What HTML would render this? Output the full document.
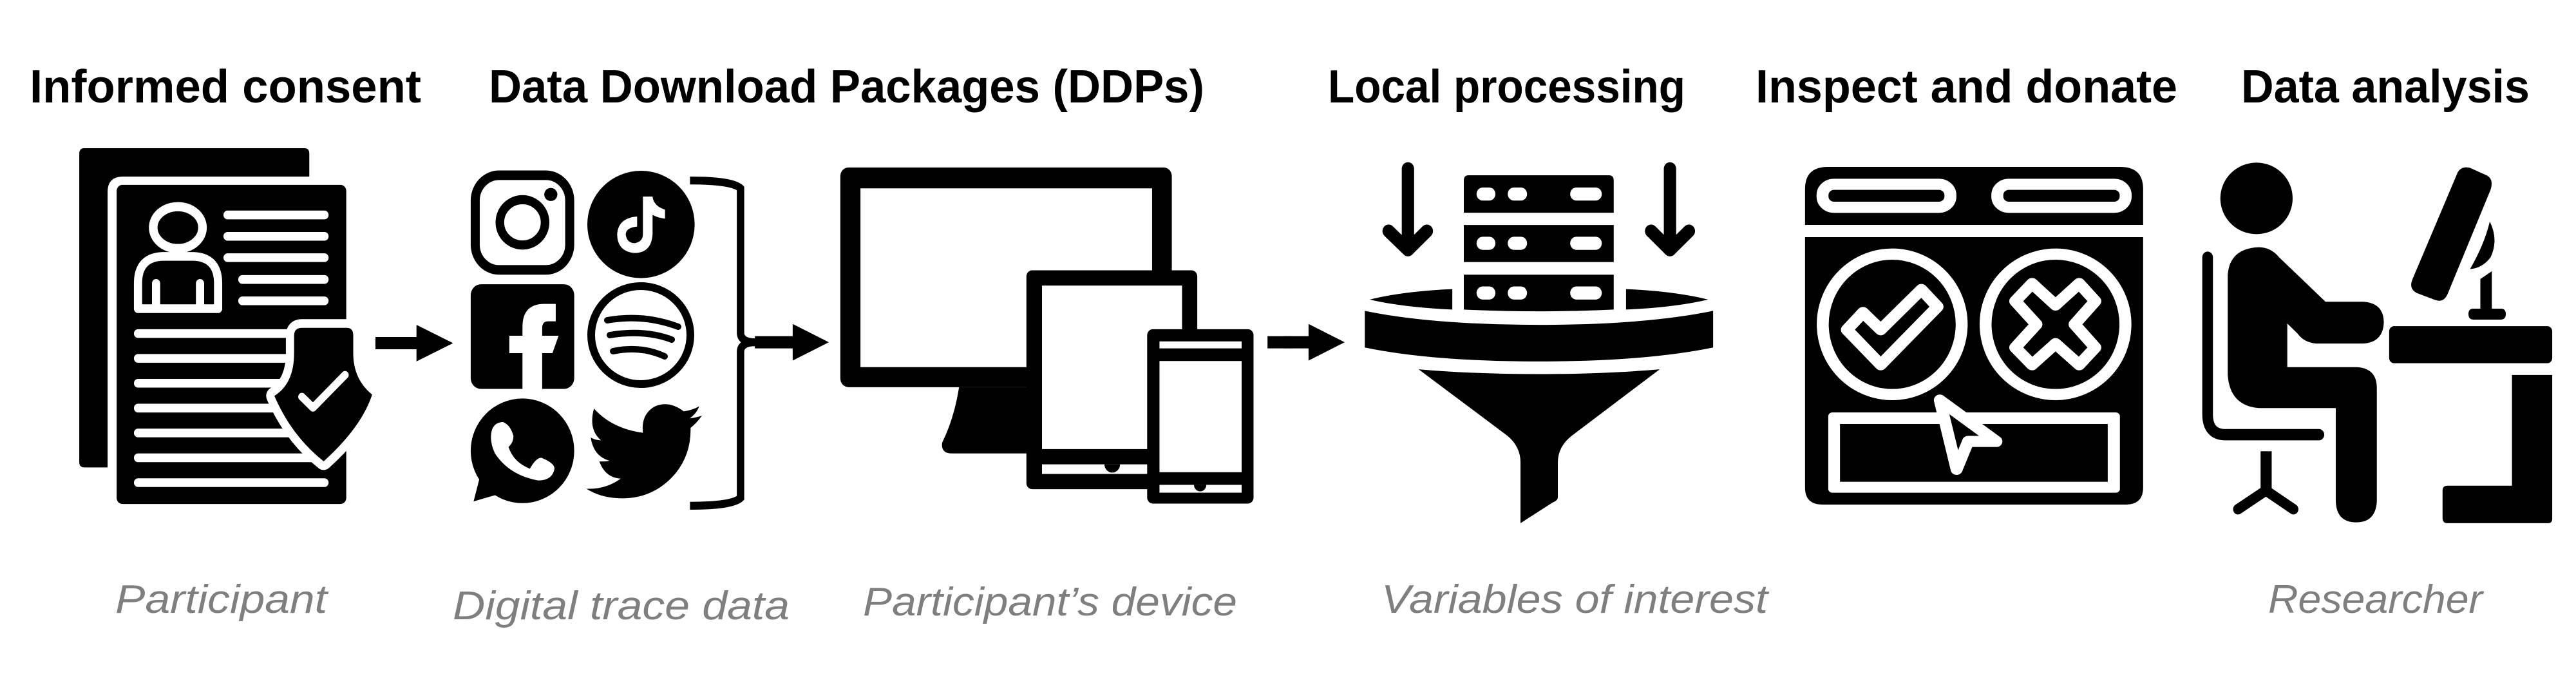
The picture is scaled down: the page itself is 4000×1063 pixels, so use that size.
<!DOCTYPE html>
<html><head><meta charset="utf-8"><title>Data donation workflow</title>
<style>
html,body{margin:0;padding:0;background:#fff}
svg{display:block}
.t{font-family:"Liberation Sans",sans-serif;font-weight:700;font-size:72px;fill:#000}
.s{font-family:"Liberation Sans",sans-serif;font-style:italic;font-size:62px;fill:#7f7f7f}
</style></head><body>
<svg xmlns="http://www.w3.org/2000/svg" width="4000" height="1063" viewBox="0 0 4000 1063">
<rect width="4000" height="1063" fill="#fff"/>

<text class="t" x="46" y="159" textLength="608" lengthAdjust="spacingAndGlyphs">Informed consent</text>
<text class="t" x="759" y="159" textLength="1111" lengthAdjust="spacingAndGlyphs">Data Download Packages (DDPs)</text>
<text class="t" x="2062" y="159" textLength="555" lengthAdjust="spacingAndGlyphs">Local processing</text>
<text class="t" x="2726" y="159" textLength="655" lengthAdjust="spacingAndGlyphs">Inspect and donate</text>
<text class="t" x="3480" y="159" textLength="448" lengthAdjust="spacingAndGlyphs">Data analysis</text>

<text class="s" x="179" y="951" textLength="329" lengthAdjust="spacingAndGlyphs">Participant</text>
<text class="s" x="703" y="961" textLength="523" lengthAdjust="spacingAndGlyphs">Digital trace data</text>
<text class="s" x="1340" y="955" textLength="581" lengthAdjust="spacingAndGlyphs">Participant’s device</text>
<text class="s" x="2145" y="951" textLength="600" lengthAdjust="spacingAndGlyphs">Variables of interest</text>
<text class="s" x="3522" y="951" textLength="333" lengthAdjust="spacingAndGlyphs">Researcher</text>

<!-- Panel 1 -->
<g transform="scale(.6378,.6766)">
  <path d="M205,340H741Q753,340 753,352V405H300Q262,405 262,440V1072H205Q193,1072 193,1060V352Q193,340 205,340Z"/>
  <rect x="284" y="424" width="559" height="732" rx="14"/>
  <ellipse cx="433" cy="522" rx="60" ry="48" fill="#000" stroke="#fff" stroke-width="21"/>
  <path d="M336,708H531V650Q531,590 471,588H396Q336,590 336,650Z" fill="#000" stroke="#fff" stroke-width="20" stroke-linejoin="round"/>
  <g stroke="#fff" stroke-width="20" stroke-linecap="round" fill="none">
    <path d="M380,650V700M487,650V700"/>
    <path d="M554,493H790M554,542H790M554,591H790M590,641H790M590,690H790"/>
    <path d="M336,765H790M336,822H790M336,879H790M336,936H790M336,993H790M336,1050H790M336,1107H790"/>
  </g>
  <path d="M735,752H845Q860,752 860,770V810Q860,870 906,905Q880,980 788,1058Q710,1000 668,908Q716,880 716,810V770Q716,752 735,752Z" fill="#000" stroke="#fff" stroke-width="40" stroke-linejoin="round"/>
  <path d="M735,752H845Q860,752 860,770V810Q860,870 906,905Q880,980 788,1058Q710,1000 668,908Q716,880 716,810V770Q716,752 735,752Z"/>
  <path d="M735,910L762,935L840,860" fill="none" stroke="#fff" stroke-width="18" stroke-linecap="round" stroke-linejoin="round"/>
  <path d="M914,773H1014V745L1103,787L1014,829V801H914Z"/>

  <!-- Instagram -->
  <rect x="1157" y="402" width="230" height="217" rx="58" fill="none" stroke="#000" stroke-width="22"/>
  <ellipse cx="1272" cy="510" rx="55" ry="52" fill="none" stroke="#000" stroke-width="21"/>
  <ellipse cx="1341" cy="446" rx="16" ry="15"/>
  <!-- Facebook -->
  <rect x="1146" y="652" width="252" height="240" rx="25"/>
  <path d="M1272,892V810H1240V770H1272V750Q1272,697 1325,697H1353V737H1335Q1320,737 1320,752V770H1360L1345,810H1320V892Z" fill="#fff"/>
  <!-- WhatsApp -->
  <ellipse cx="1272" cy="1034" rx="126" ry="120"/>
  <path d="M1168,1095L1153,1150L1215,1133Z"/>
  <path d="M1225,968Q1243,975 1250,1000Q1250,1015 1238,1025Q1250,1060 1290,1075Q1305,1050 1318,1050Q1350,1062 1350,1075Q1345,1102 1310,1102Q1240,1090 1205,1040Q1190,1010 1198,985Q1205,968 1225,968Z" fill="#fff"/>
</g>

<!-- TikTok -->
<g transform="translate(890,240) scale(.3333)">
  <circle cx="316" cy="325" r="250"/>
  <path d="M325,195H370Q375,240 428,256V298Q395,295 370,280V370Q365,458 285,458Q205,450 205,370Q210,295 298,288V335Q245,340 245,372Q250,412 287,412Q325,405 325,370Z" fill="#fff"/>
</g>
<!-- Spotify -->
<ellipse cx="995" cy="520" rx="77" ry="76" fill="none" stroke="#000" stroke-width="12"/>
<g fill="none" stroke="#000" stroke-width="10" stroke-linecap="round">
  <path d="M943,497Q1000,487 1053,507"/>
  <path d="M947,520Q1000,511 1043,527"/>
  <path d="M952,545Q995,536 1032,553"/>
</g>
<!-- Twitter -->
<g transform="translate(890,570) scale(.3333)">
  <path d="M97,192Q180,285 325,305Q315,215 385,180Q450,155 515,205Q555,200 587,182Q575,215 543,238Q570,235 600,225Q575,260 547,282Q550,400 480,490Q380,610 230,610Q130,610 62,565Q150,570 222,518Q150,515 122,438Q145,440 170,435Q95,415 82,327Q105,340 130,340Q70,290 97,192Z"/>
</g>

<!-- Panel 2 -->
<g transform="translate(1000,0) scale(.6378,.6766)">
  <path d="M112,414Q215,414 235,432V765Q237,785 270,785H365M112,1160Q215,1160 235,1142V805Q237,785 270,785" fill="none" stroke="#000" stroke-width="18"/>
  <path d="M270,771H362V743L450,785L362,827V799H270Z"/>
  <rect x="478" y="384" width="807" height="504" rx="20"/>
  <rect x="527" y="432" width="710" height="410" fill="#fff"/>
  <path d="M767,888Q755,960 726,1015Q722,1040 750,1040H940V888Z"/>
  <rect x="931" y="620" width="416" height="502" rx="14"/>
  <rect x="969" y="655" width="341" height="375" fill="#fff"/>
  <rect x="969" y="1065" width="260" height="22" fill="#fff"/>
  <path d="M1121,1065A19,19 0 0 0 1159,1065Z"/>
  <rect x="1225" y="755" width="259" height="400" rx="14"/>
  <rect x="1255" y="783" width="200" height="16" fill="#fff"/>
  <rect x="1255" y="828" width="200" height="255" fill="#fff"/>
  <rect x="1255" y="1112" width="200" height="18" fill="#fff"/>
  <path d="M1339,1112A15,15 0 0 0 1369,1112Z"/>
  <rect x="1518" y="771" width="60" height="28"/>
</g>

<!-- Panel 3 -->
<g transform="translate(2000,0) scale(.6378,.6766)">
  <path d="M-10,771H50V743L138,785L50,827V799H-10Z"/>
  <g fill="none" stroke="#000" stroke-width="30" stroke-linecap="round" stroke-linejoin="round">
    <path d="M292,387V570M245,530L292,573L338,530"/>
    <path d="M930,387V570M884,530L930,573L976,530"/>
  </g>
  <path d="M440,402H781Q793,402 793,414V488H428V414Q428,402 440,402Z"/>
  <rect x="428" y="516" width="365" height="85"/>
  <path d="M428,630H793V710Q700,714 611,714Q520,714 428,710Z"/>
  <g fill="#fff">
    <rect x="459" y="430" width="46" height="30" rx="15"/><rect x="535" y="430" width="47" height="30" rx="15"/><rect x="687" y="430" width="77" height="30" rx="15"/>
    <rect x="459" y="543" width="46" height="30" rx="15"/><rect x="535" y="543" width="47" height="30" rx="15"/><rect x="687" y="543" width="77" height="30" rx="15"/>
    <rect x="459" y="657" width="46" height="30" rx="15"/><rect x="535" y="657" width="47" height="30" rx="15"/><rect x="687" y="657" width="77" height="30" rx="15"/>
  </g>
  <path d="M199,687Q280,668 400,663V710Q280,705 199,687Z"/>
  <path d="M1023,687Q942,668 823,663V710Q942,705 1023,687Z"/>
  <path d="M187,713Q350,745 611,745Q870,745 1035,713V797Q870,829 611,829Q350,829 187,797Z"/>
  <path d="M318,847Q450,858 611,858Q770,858 905,847L690,1000Q657,1025 657,1060V1140Q657,1148 645,1152L566,1200V1060Q566,1025 535,1000Z"/>
</g>

<!-- Window icon -->
<g transform="translate(2790,240) scale(.35714,.33333)">
  <path d="M36,327V160Q36,57 135,57H1407Q1506,57 1506,160V327Z"/>
  <path d="M36,384H1506V1550Q1506,1629 1430,1629H112Q36,1629 36,1550Z"/>
  <g fill="none" stroke="#fff" stroke-width="52">
    <rect x="112" y="138" width="556" height="107" rx="50"/>
    <rect x="872" y="138" width="558" height="107" rx="50"/>
    <ellipse cx="415" cy="790" rx="302" ry="327"/>
    <ellipse cx="1125" cy="790" rx="304" ry="327"/>
    <path stroke-linejoin="round" d="M288,735L365,815L542,628L612,708L365,978L218,815Z"/>
    <path stroke-linejoin="round" d="M1125,700L1228,600L1298,682L1208,790L1298,898L1228,978L1125,880L1023,978L950,898L1042,790L950,682L1023,600Z"/>
  </g>
  <rect x="137" y="1200" width="1268" height="374" rx="18" fill="#fff"/>
  <rect x="188" y="1254" width="1164" height="269"/>
  <path d="M622,1143L868,1335H745L695,1465Z" fill="#000" stroke="#fff" stroke-width="52" stroke-linejoin="round"/>
</g>

<!-- Panel 4 -->
<g transform="translate(3000,0) scale(.6378,.6766)">
  <ellipse cx="790" cy="455" rx="88" ry="82"/>
  <path d="M671,590V950Q671,997 715,997H942" fill="none" stroke="#000" stroke-width="26" stroke-linecap="round"/>
  <rect x="800" y="1035" width="27" height="85"/>
  <path d="M745,1168L813,1125L880,1168" fill="none" stroke="#000" stroke-width="24" stroke-linecap="round"/>
  <path d="M795,567Q825,567 845,590L958,692H1050Q1100,695 1100,740Q1098,785 1050,788H935Q905,785 890,765L865,742V842H1035Q1083,845 1083,890V1150Q1080,1198 1033,1198Q985,1198 983,1150V936H795Q725,930 720,860V630Q725,570 795,567Z"/>
  <path d="M1280,395Q1290,380 1310,385L1350,402Q1368,410 1360,435L1255,675Q1245,695 1225,688L1180,672Q1160,662 1170,640Z"/>
  <path d="M1358,508Q1380,550 1360,590Q1340,615 1310,617Q1345,560 1358,508Z"/>
  <path d="M1335,640L1363,622V708H1385Q1397,708 1397,720Q1397,733 1385,733H1318Q1306,733 1306,720Q1306,708 1318,708H1335Z"/>
  <rect x="1113" y="748" width="397" height="85" rx="12"/>
  <path d="M1412,860H1510V1190Q1510,1200 1500,1200H1255Q1243,1200 1243,1188V1125Q1243,1114 1255,1114H1412Z"/>
</g>
</svg>
</body></html>
